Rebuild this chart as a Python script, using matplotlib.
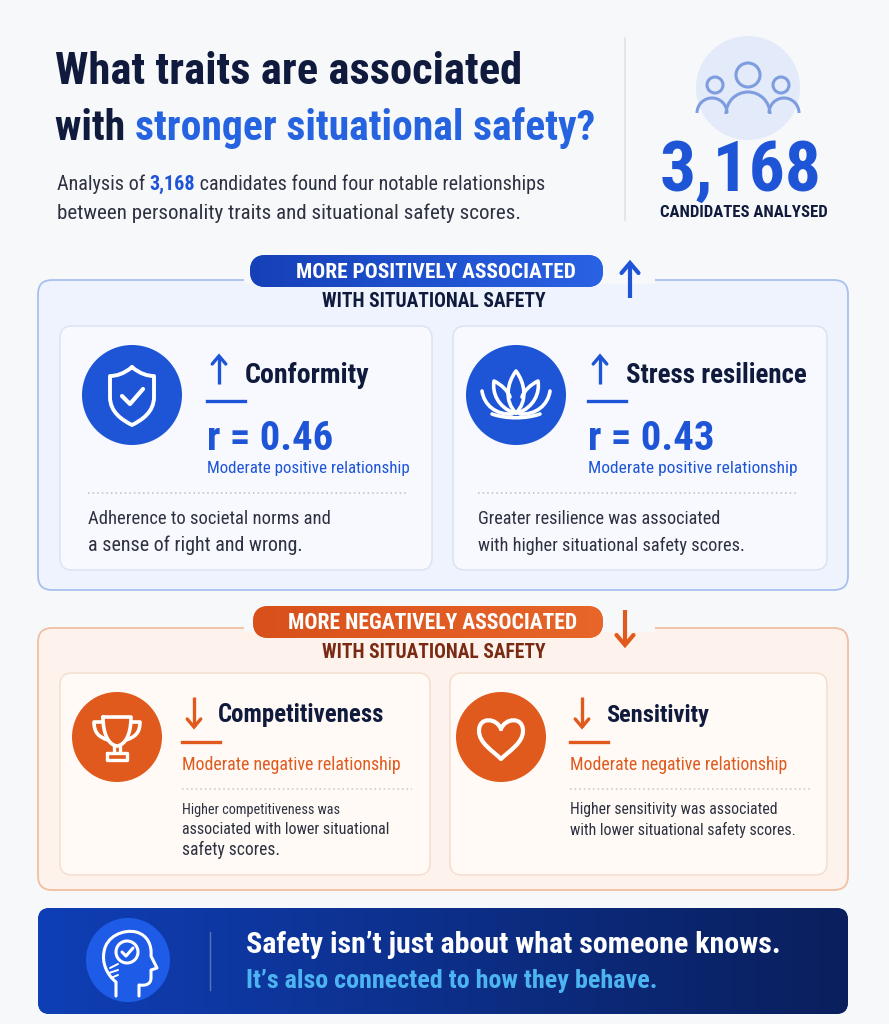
import matplotlib
matplotlib.use('Agg')
import matplotlib.pyplot as plt
from matplotlib import font_manager as fm
from matplotlib.patches import FancyBboxPatch, Circle, PathPatch, Arc, Rectangle
from matplotlib.path import Path
import numpy as np

# ---- data ----
total_candidates = '3,168'
pos_traits = ['Conformity', 'Stress resilience']
pos_r = [0.46, 0.43]
pos_label = 'Moderate positive relationship'
pos_desc = [['Adherence to societal norms and', 'a sense of right and wrong.'],
            ['Greater resilience was associated', 'with higher situational safety scores.']]
neg_traits = ['Competitiveness', 'Sensitivity']
neg_label = 'Moderate negative relationship'
neg_desc = [['Higher competitiveness was', 'associated with lower situational', 'safety scores.'],
            ['Higher sensitivity was associated', 'with lower situational safety scores.']]

# ---- colours ----
BG = '#f7f8fa'
NAVY = '#0f1a3c'
BLUE = '#1d55d6'
BLUE_T = '#2563e0'
GREY = '#2d3140'
ORANGE = '#e05a1e'


def pick(names):
    for n in names:
        try:
            fm.findfont(fm.FontProperties(family=n), fallback_to_default=False)
            return n
        except ValueError:
            pass
    return 'DejaVu Sans'


COND = pick(['Liberation Sans Narrow', 'Roboto Condensed', 'Roboto', 'DejaVu Sans'])

W, H = 889, 1024
fig = plt.figure(figsize=(W / 100, H / 100), dpi=100)
fig.patch.set_facecolor(BG)
ax = fig.add_axes([0, 0, 1, 1])
ax.set_xlim(0, W)
ax.set_ylim(H, 0)
ax.axis('off')
R = fig.canvas.get_renderer()


def tw(s, size, weight):
    t = ax.text(0, 0, s + '|', fontsize=size, weight=weight, family=COND)
    a = t.get_window_extent(R).width
    t.set_text('|')
    b = t.get_window_extent(R).width
    t.remove()
    return a - b


def line_text(x, y, parts, width, ha='left', zorder=5):
    # parts: list of (string, colour, weight); scaled so the whole line spans `width`
    total = sum(tw(s, 20, wt) for s, c, wt in parts)
    size = 20 * width / total
    if ha == 'center':
        x = x - width / 2
    for s, c, wt in parts:
        ax.text(x, y, s, fontsize=size, color=c, weight=wt, family=COND,
                va='baseline', ha='left', zorder=zorder)
        x += tw(s, size, wt)
    return size


def rbox(x0, y0, x1, y1, r, fc, ec='none', lw=1, z=1):
    p = FancyBboxPatch((x0, y0), x1 - x0, y1 - y0,
                       boxstyle=f'round,pad=0,rounding_size={r}',
                       fc=fc, ec=ec, lw=lw, zorder=z)
    ax.add_patch(p)
    return p


def gradient(patch, x0, y0, x1, y1, c0, c1, z):
    cm = matplotlib.colors.LinearSegmentedColormap.from_list('g', [c0, c1])
    im = ax.imshow(np.linspace(0, 1, 256)[None, :], cmap=cm, extent=[x0, x1, y1, y0],
                   aspect='auto', zorder=z)
    im.set_clip_path(patch)


def arrow(x, y0, y1, color, lw=2.6, head=9):
    ax.plot([x, x], [y0, y1], color=color, lw=lw, solid_capstyle='butt', zorder=6)
    d = head if y1 > y0 else -head
    ax.plot([x - head * 0.85, x, x + head * 0.85], [y1 - d, y1, y1 - d], color=color,
            lw=lw, solid_capstyle='round', solid_joinstyle='miter', zorder=6)


def path(cx, cy, pts, codes, color='white', lw=2.6, fc='none', z=7):
    v = [(cx + a, cy + b) for a, b in pts]
    ax.add_patch(PathPatch(Path(v, codes), fc=fc, ec=color, lw=lw, zorder=z,
                           capstyle='round', joinstyle='round'))


M, L, C = Path.MOVETO, Path.LINETO, Path.CURVE4

# ---- header ----
line_text(55, 84, [('What traits are associated', NAVY, 'bold')], 466)
line_text(55, 140, [('with ', NAVY, 'bold'), ('stronger situational safety?', BLUE_T, 'bold')], 538)
line_text(57, 190, [('Analysis of ', GREY, 'normal'), (total_candidates, BLUE, 'bold'),
                    (' candidates found four notable relationships', GREY, 'normal')], 488)
line_text(57, 219, [('between personality traits and situational safety scores.', GREY, 'normal')], 464)

ax.plot([625, 625], [38, 220], color='#dfe3ea', lw=1.2)
ax.add_patch(Circle((748, 88), 52, fc='#e3eafa', ec='none', zorder=2))
for hx, hy, hr in [(715, 85, 8), (781, 85, 8), (748, 75, 12)]:
    ax.add_patch(Circle((hx, hy), hr, fc='none', ec='#7d9ddf', lw=2.2, zorder=3))
for ax_x, aw, top in [(712, 30, 98), (784, 30, 98), (748, 44, 92)]:
    ax.add_patch(Arc((ax_x, top + aw * 0.5), aw, aw, theta1=180, theta2=360,
                     ec='#7d9ddf', lw=2.2, zorder=3))
line_text(741, 191, [(total_candidates, BLUE, 'bold')], 162, ha='center')
line_text(744, 217, [('CANDIDATES ANALYSED', NAVY, 'bold')], 168, ha='center')

# ---- positive section ----
rbox(38, 280, 848, 590, 14, '#eef3fd', '#a9c0ee', 1.3, z=1)
ax.add_patch(Rectangle((244, 276), 411, 8, fc=BG, ec='none', zorder=2))
pill = rbox(250, 255, 603, 287, 16, '#1a4fcf', z=3)
gradient(pill, 250, 255, 603, 287, '#1540b8', '#2a62e4', 3)
line_text(436, 278, [('MORE POSITIVELY ASSOCIATED', 'white', 'bold')], 280, ha='center')
line_text(434, 307, [('WITH SITUATIONAL SAFETY', NAVY, 'bold')], 224, ha='center')
arrow(630, 298, 263, BLUE, lw=3, head=10)

pos_cards = [(60, 432), (453, 827)]
pos_icon = [(132, 395), (516, 395)]
pos_tx = [207, 588]
for i, trait in enumerate(pos_traits):
    x0, x1 = pos_cards[i]
    rbox(x0, 326, x1, 570, 12, '#f7f9ff', '#d8e1f3', 1, z=2)
    cx, cy = pos_icon[i]
    ax.add_patch(Circle((cx, cy), 50, fc=BLUE, ec='none', zorder=4))
    tx = pos_tx[i]
    arrow(tx + 12, 384, 356, BLUE, lw=2.4, head=8)
    tw_target = [124, 180][i]
    line_text(tx + 38, 383, [(trait, NAVY, 'bold')], tw_target)
    ax.plot([tx, tx + 38], [401, 401], color=BLUE, lw=2.4, zorder=5)
    line_text(tx, 450, [(f'r = {pos_r[i]:.2f}', BLUE, 'bold')], 126)
    line_text(tx, 473, [(pos_label, BLUE, 'normal')], [201, 207][i])
    dx0 = [88, 478][i]
    ax.plot([dx0, dx0 + 320], [493, 493], color='#b9bec9', lw=1.1, ls=(0, (1, 2)), zorder=5)
    widths = [[242, 215], [243, 267]][i]
    for j, s in enumerate(pos_desc[i]):
        line_text(dx0, 524 + 27 * j, [(s, GREY, 'normal')], widths[j])

# shield icon
cx, cy = pos_icon[0]
path(cx, cy, [(0, -28), (8, -21), (16, -19), (22, -19), (22, 2), (22, 17), (10, 25), (0, 30),
              (-10, 25), (-22, 17), (-22, 2), (-22, -19), (-16, -19), (-8, -21), (0, -28)],
     [M, C, C, C, L, C, C, C, C, C, C, L, C, C, C], lw=2.8)
path(cx, cy, [(-10, 1), (-2, 9), (11, -6)], [M, L, L], lw=3)

# lotus icon
cx, cy = pos_icon[1]
path(cx, cy, [(0, 18), (-12, 6), (-9, -12), (0, -24), (9, -12), (12, 6), (0, 18)],
     [M, C, C, C, C, C, C], lw=2.6)
for s in (-1, 1):
    path(cx, cy, [(s * -2, 18), (s * -18, 12), (s * -24, -2), (s * -22, -14),
                  (s * -14, -10), (s * -8, -4), (s * -6, 2)],
         [M, C, C, C, C, C, C], lw=2.6)
    path(cx, cy, [(s * -4, 19), (s * -20, 20), (s * -32, 10), (s * -34, -4)],
         [M, C, C, C], lw=2.6)
path(cx, cy, [(-24, 19), (-10, 24), (10, 24), (24, 19)], [M, C, C, C], lw=2.6)

# ---- negative section ----
rbox(38, 628, 848, 890, 14, '#fdf3ec', '#f1bfa2', 1.3, z=1)
ax.add_patch(Rectangle((244, 624), 411, 8, fc=BG, ec='none', zorder=2))
pill = rbox(253, 606, 603, 638, 16, ORANGE, z=3)
gradient(pill, 253, 606, 603, 638, '#d9501a', '#e8662a', 3)
line_text(432, 629, [('MORE NEGATIVELY ASSOCIATED', 'white', 'bold')], 289, ha='center')
line_text(434, 658, [('WITH SITUATIONAL SAFETY', '#7a2a12', 'bold')], 224, ha='center')
arrow(625, 610, 645, ORANGE, lw=3, head=10)

neg_cards = [(60, 430), (450, 827)]
neg_icon = [(117, 737), (501, 737)]
neg_tx = [182, 570]
for i, trait in enumerate(neg_traits):
    x0, x1 = neg_cards[i]
    rbox(x0, 673, x1, 875, 12, '#fffaf6', '#f3dccd', 1, z=2)
    cx, cy = neg_icon[i]
    ax.add_patch(Circle((cx, cy), 45, fc=ORANGE, ec='none', zorder=4))
    tx = neg_tx[i]
    arrow(tx + 12, 697, 727, ORANGE, lw=2.4, head=8)
    line_text(tx + 36, 722, [(trait, NAVY, 'bold')], [165, 103][i])
    ax.plot([tx, tx + 38], [742, 742], color=ORANGE, lw=2.4, zorder=5)
    line_text(tx, 770, [(neg_label, ORANGE, 'normal')], [218, 217][i])
    ax.plot([tx, tx + [230, 240][i]], [789, 789], color='#d6c3b8', lw=1.1, ls=(0, (1, 2)), zorder=5)
    widths = [[158, 208, 98], [207, 225]][i]
    for j, s in enumerate(neg_desc[i]):
        line_text(tx, 814 + 20.5 * j, [(s, GREY, 'normal')], widths[j])

# trophy icon
cx, cy = neg_icon[0]
path(cx, cy, [(-14, -20), (14, -20), (14, -2), (8, 8), (0, 9), (-8, 8), (-14, -2), (-14, -20)],
     [M, L, C, C, C, C, C, C], lw=2.6)
for s in (-1, 1):
    path(cx, cy, [(s * 14, -15), (s * 23, -15), (s * 23, -4), (s * 18, 0), (s * 9, 3)],
         [M, L, C, C, C], lw=2.6)
path(cx, cy, [(-3, 9), (-3, 16), (3, 16), (3, 9)], [M, L, M, L], lw=2.4)
path(cx, cy, [(-10, 16), (10, 16), (10, 23), (-10, 23), (-10, 16)], [M, L, L, L, L], lw=2.4)

# heart icon
cx, cy = neg_icon[1]
path(cx, cy, [(0, -8), (-4, -19), (-22, -21), (-22, -6), (-22, 6), (-8, 14), (0, 22),
              (8, 14), (22, 6), (22, -6), (22, -21), (4, -19), (0, -8)],
     [M, C, C, C, C, C, C, C, C, C, C, C, C], lw=3)

# ---- bottom banner ----
ban = rbox(38, 908, 848, 1014, 12, '#0c2f8c', z=1)
gradient(ban, 38, 908, 848, 1014, '#0f3fb6', '#0a1f5c', 1)
ax.add_patch(Circle((128, 960), 42, fc='#1e5be6', ec='none', zorder=4))
cx, cy = 130, 962
path(cx, cy, [(-14, 34), (-14, 20), (-24, 12), (-28, 0), (-26, -10), (-24, -26), (-6, -33),
              (6, -30), (18, -27), (22, -16), (21, -6), (27, 6), (21, 8), (21, 16),
              (21, 22), (16, 24), (9, 23), (9, 34)],
     [M, L, C, C, C, C, C, C, C, C, C, L, L, L, C, C, C, L], lw=2.2)
ax.add_patch(Circle((cx - 3, cy - 10), 11, fc='none', ec='white', lw=2.2, zorder=7))
path(cx - 3, cy - 10, [(-5, 0), (-1, 4), (6, -4)], [M, L, L], lw=2.2)
for a, b in [((-20, 6), (-12, 2)), ((-21, 11), (-12, 8)), ((-19, 16), (-12, 13))]:
    path(cx, cy, [a, b], [M, L], lw=1.4)
ax.plot([210, 210], [932, 990], color='#5b73b5', lw=1, zorder=5)
line_text(246, 953, [('Safety isn\u2019t just about what someone knows.', 'white', 'bold')], 536)
line_text(246, 988, [('It\u2019s also connected to how they behave.', '#4db4f2', 'bold')], 412)

ax.set_xlim(0, W)
ax.set_ylim(H, 0)
fig.savefig('out.png', dpi=100, facecolor=BG)
